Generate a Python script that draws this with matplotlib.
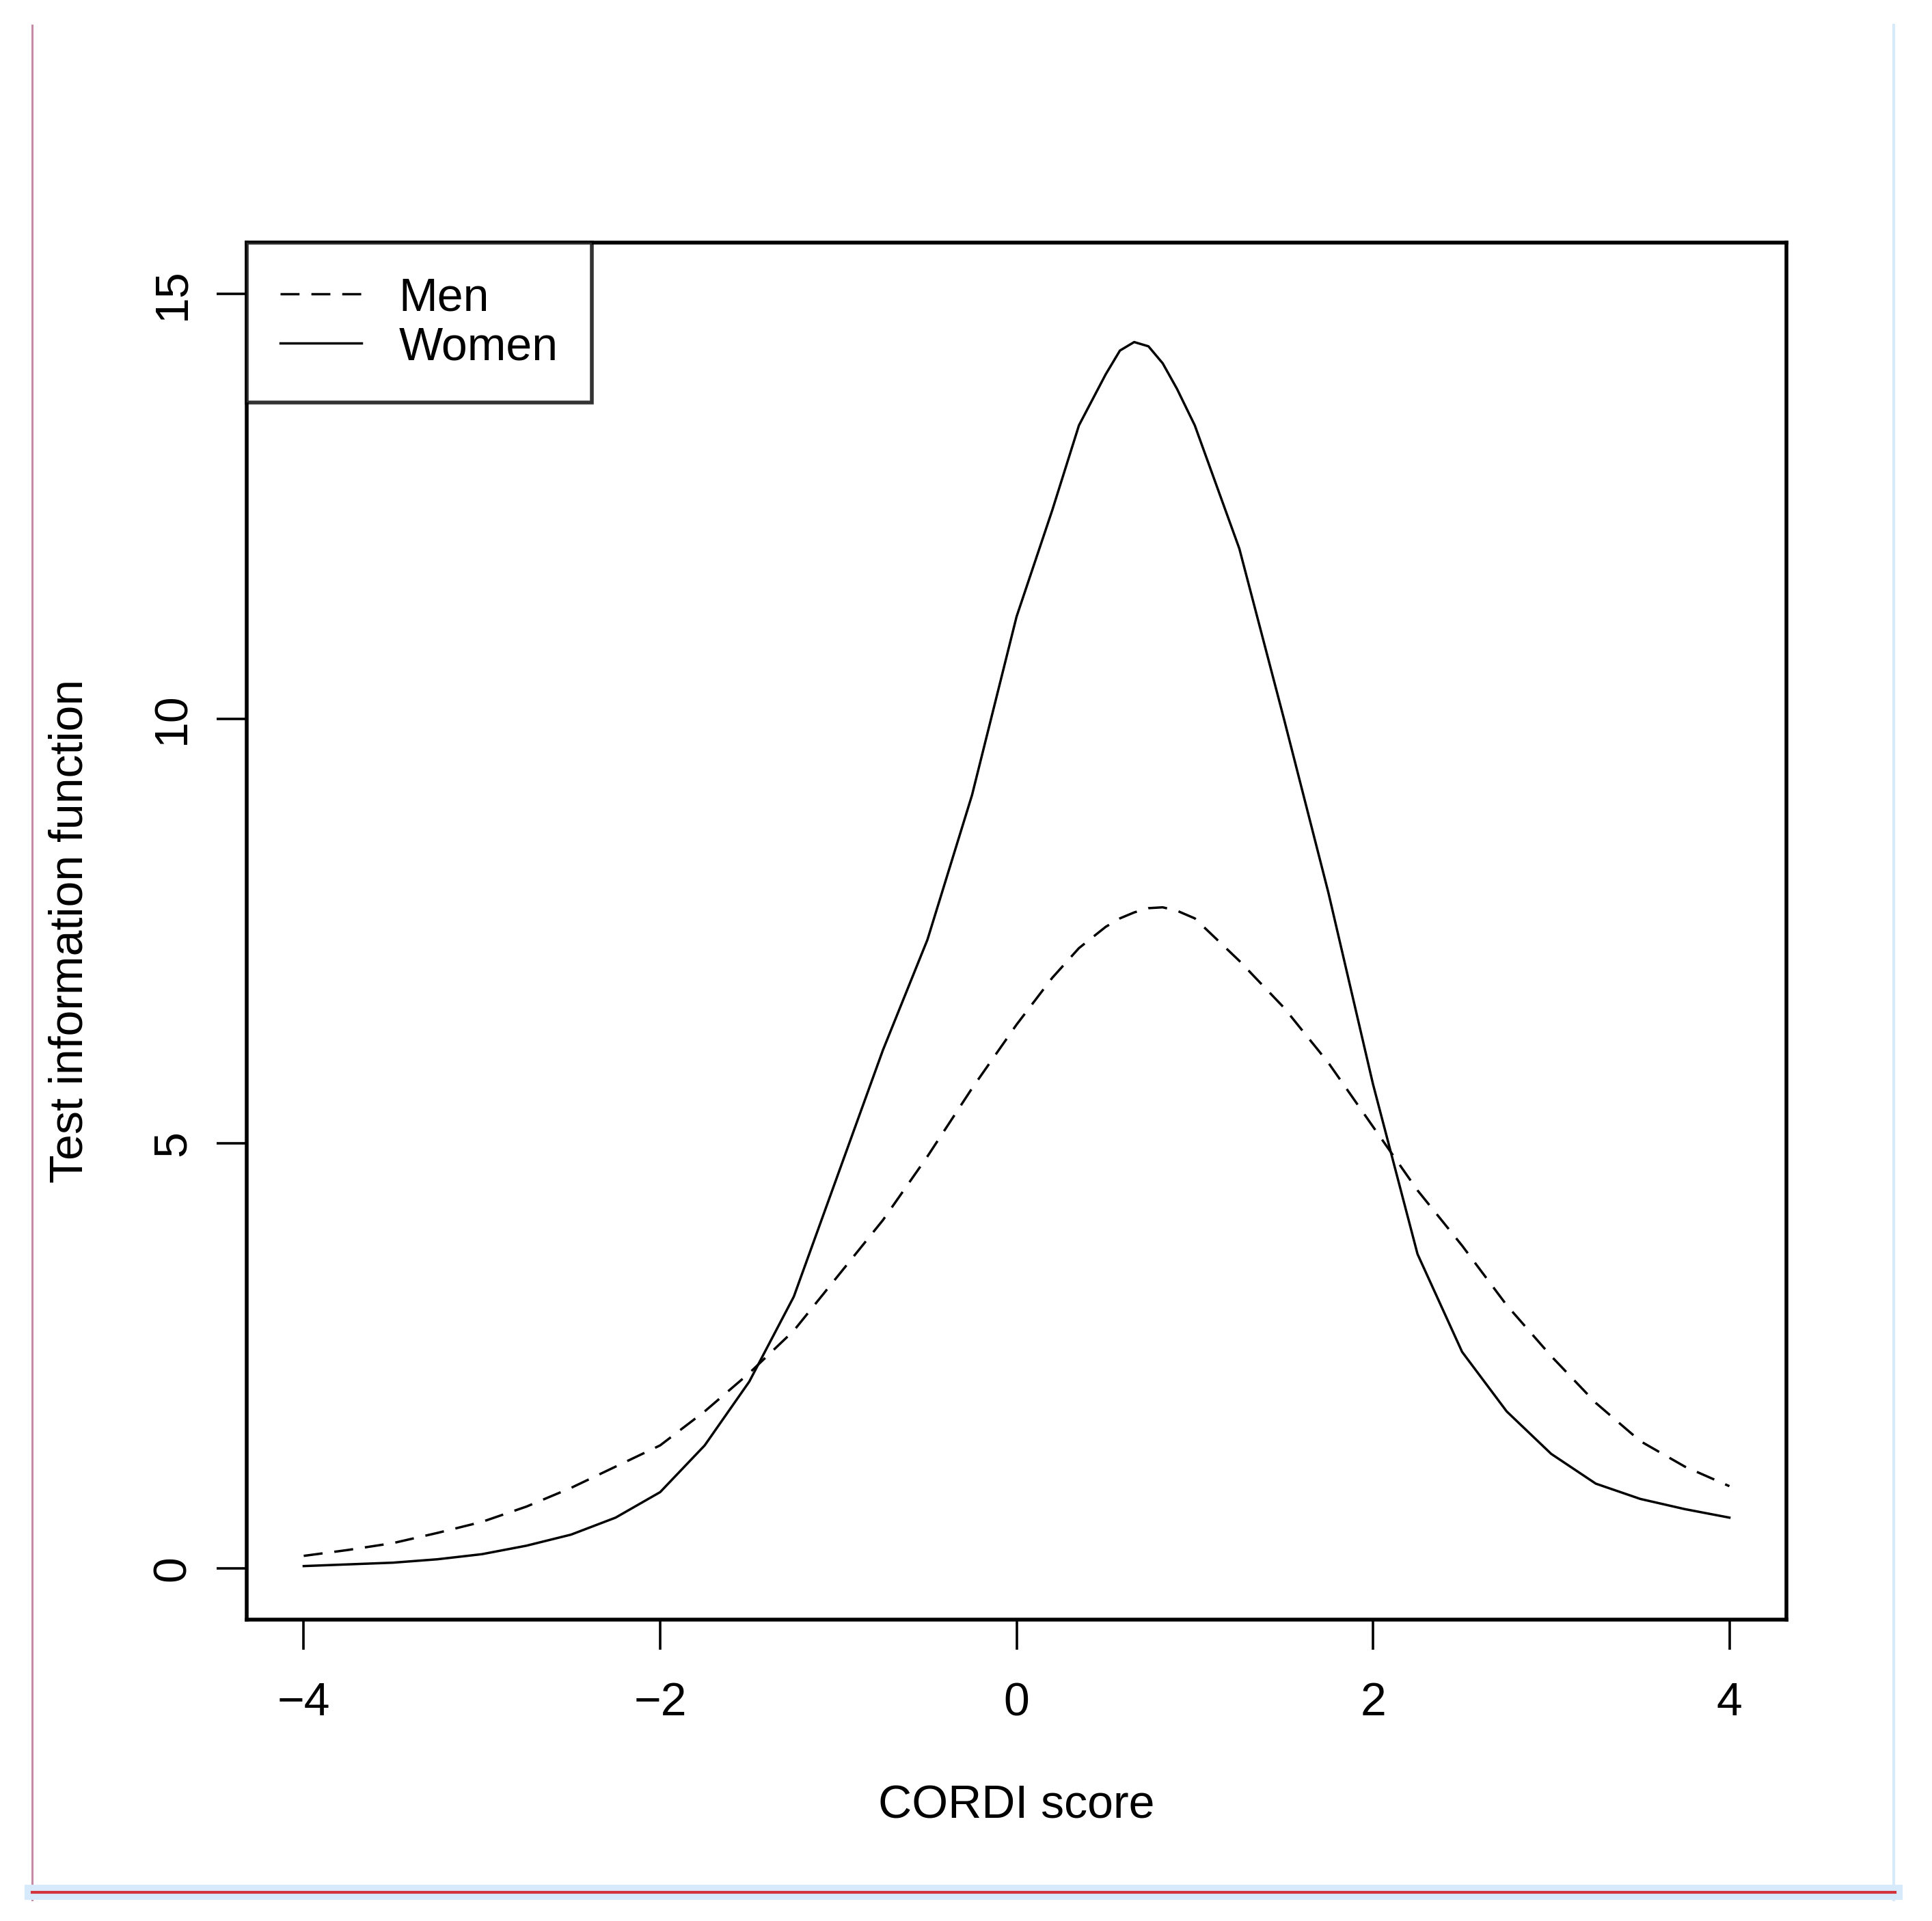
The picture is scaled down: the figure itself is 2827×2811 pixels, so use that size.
import numpy as np
import matplotlib.pyplot as plt
from matplotlib.lines import Line2D

plt.rcParams['font.family'] = ['Liberation Sans', 'DejaVu Sans']

# CORDI score grid and test information values
theta = [-4.00, -3.75, -3.50, -3.25, -3.00, -2.75, -2.50, -2.25, -2.00,
         -1.75, -1.50, -1.25, -1.00, -0.75, -0.50, -0.25, 0.00, 0.20,
         0.35, 0.50, 0.58, 0.66, 0.74, 0.82, 0.90, 1.00, 1.25, 1.50,
         1.75, 2.00, 2.25, 2.50, 2.75, 3.00, 3.25, 3.50, 3.75, 4.00]

men = [0.15, 0.22, 0.30, 0.42, 0.55, 0.73, 0.95, 1.20, 1.45,
       1.85, 2.30, 2.80, 3.45, 4.10, 4.85, 5.65, 6.40, 6.95,
       7.30, 7.55, 7.65, 7.72, 7.77, 7.78, 7.74, 7.65, 7.15, 6.60,
       5.95, 5.20, 4.45, 3.80, 3.10, 2.50, 1.95, 1.50, 1.20, 0.97]

women = [0.03, 0.05, 0.07, 0.11, 0.17, 0.27, 0.40, 0.60, 0.90,
         1.45, 2.20, 3.20, 4.65, 6.10, 7.40, 9.10, 11.20, 12.45,
         13.45, 14.05, 14.33, 14.43, 14.38, 14.18, 13.88, 13.45, 12.00, 10.00,
         7.95, 5.70, 3.70, 2.55, 1.85, 1.35, 1.00, 0.82, 0.70, 0.60]

x_ticks = [-4, -2, 0, 2, 4]
y_ticks = [0, 5, 10, 15]

W, H = 2827, 2811
fig = plt.figure(figsize=(W / 100, H / 100), dpi=100)
ax = fig.add_axes([361 / W, 1 - 2370 / H, (2614 - 361) / W, (2370 - 355) / H])

dash = (0, (8, 5))
ax.plot(theta, men, color='black', lw=2.5, linestyle=dash, label='Men')
ax.plot(theta, women, color='black', lw=2.5, linestyle='-', label='Women')

ax.set_xlim(-4.32, 4.32)
ax.set_ylim(-0.6, 15.6)
ax.set_xticks(x_ticks)
ax.set_xticklabels(['\u22124', '\u22122', '0', '2', '4'])
ax.set_yticks(y_ticks)
ax.set_yticklabels([str(v) for v in y_ticks], rotation=90, va='center')
ax.tick_params(length=32, width=2.6, labelsize=49, colors='black')
ax.tick_params(axis='x', pad=33)
ax.tick_params(axis='y', pad=23)
for s in ax.spines.values():
    s.set_linewidth(4)

ax.set_xlabel('CORDI score', fontsize=49, labelpad=62)
ax.set_ylabel('Test information function', fontsize=49, labelpad=62)

leg = ax.legend(loc='upper left', fontsize=49, frameon=True, fancybox=False,
                edgecolor='black', borderaxespad=0, borderpad=0.72,
                handlelength=1.75, handletextpad=0.8, labelspacing=0.12)
leg.get_frame().set_linewidth(4)

# screenshot frame lines around the plot
fig.add_artist(Line2D([47 / W, 47 / W], [1 - 37 / H, 1 - 2780 / H],
                      color='#c58aa6', lw=2.2))
fig.add_artist(Line2D([2771 / W, 2771 / W], [1 - 37 / H, 1 - 2780 / H],
                      color='#d6eafb', lw=3))
fig.add_artist(Line2D([47 / W, 2773 / W], [1 - 2769 / H, 1 - 2769 / H],
                      color='#d6eafb', lw=16))
fig.add_artist(Line2D([47 / W, 2773 / W], [1 - 2769 / H, 1 - 2769 / H],
                      color='#d3343c', lw=3))

fig.savefig('out.png', dpi=100, facecolor='white')
